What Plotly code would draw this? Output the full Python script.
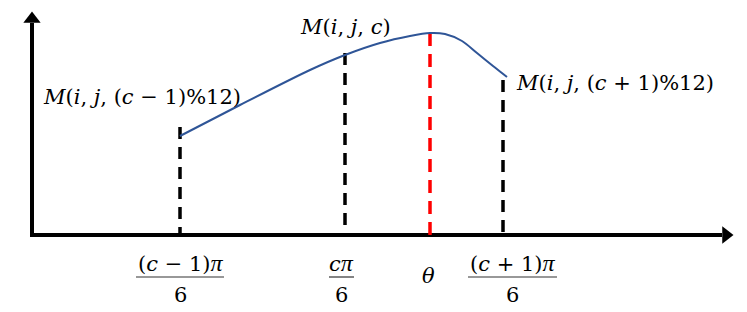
import plotly.graph_objects as go

# ---- data (horizontal position, height above the x axis) ----
curve_x = [180, 240, 310, 345, 380, 410, 430, 445, 462, 477, 493, 507]
curve_y = [99, 130, 165, 180, 192, 199, 202, 201, 194, 182, 169, 158]

guide_x = [180, 345, 503]          # (c-1)pi/6, c pi/6, (c+1)pi/6
guide_top = [108, 182, 155]
theta_x = 430
theta_top = 202

PI = '<span style="font-family:Liberation Serif;font-size:24px"><i>π</i></span>'
tick_nums = ["(<i>c</i> − 1)" + PI, "<i>c</i>" + PI, "(<i>c</i> + 1)" + PI]
tick_den = "6"
tick_bar = [(136, 224), (329, 354), (468, 557)]

labels = ["<i>M</i>(<i>i</i>, <i>j</i>, (<i>c</i> − 1)%12)",
          "<i>M</i>(<i>i</i>, <i>j</i>, <i>c</i>)",
          "<i>M</i>(<i>i</i>, <i>j</i>, (<i>c</i> + 1)%12)"]
label_x = [41, 298, 514]
label_y = [138, 208, 152]

FONT = "DejaVu Serif"
FS = 21
OFF = 8  # page body margin

fig = go.Figure()

# axes
fig.add_trace(go.Scatter(x=[32, 32], y=[0, 212], mode="lines",
                         line=dict(color="black", width=4), hoverinfo="skip"))
fig.add_trace(go.Scatter(x=[30, 722], y=[0, 0], mode="lines",
                         line=dict(color="black", width=4), hoverinfo="skip"))
fig.add_trace(go.Scatter(x=[32], y=[216], mode="markers",
                         marker=dict(symbol="triangle-up", size=15, color="black"),
                         hoverinfo="skip"))
fig.add_trace(go.Scatter(x=[726], y=[0], mode="markers",
                         marker=dict(symbol="triangle-right", size=15, color="black"),
                         hoverinfo="skip"))

# guide lines
for gx, gt in zip(guide_x, guide_top):
    fig.add_trace(go.Scatter(x=[gx, gx], y=[gt, 0], mode="lines",
                             line=dict(color="black", width=3.5, dash="12px,8px"),
                             hoverinfo="skip"))
fig.add_trace(go.Scatter(x=[theta_x, theta_x], y=[theta_top, 0], mode="lines",
                         line=dict(color="#FF0000", width=3.5, dash="13px,8px"),
                         hoverinfo="skip"))

# curve
fig.add_trace(go.Scatter(x=curve_x, y=curve_y, mode="lines",
                         line=dict(color="#2F5597", width=2, shape="spline", smoothing=0.8),
                         hoverinfo="skip"))

ann = []
for t, lx, ly in zip(labels, label_x, label_y):
    ann.append(dict(x=lx, y=ly, text=t, showarrow=False, xanchor="left", yanchor="middle",
                    font=dict(family=FONT, size=FS, color="black")))
for t, (b0, b1) in zip(tick_nums, tick_bar):
    cx = (b0 + b1) / 2
    ann.append(dict(x=cx, y=235 - 263, text=t, showarrow=False, xanchor="center",
                    yanchor="middle", font=dict(family=FONT, size=FS, color="black")))
    ann.append(dict(x=cx, y=235 - 295, text=tick_den, showarrow=False, xanchor="center",
                    yanchor="middle", font=dict(family=FONT, size=FS, color="black")))
    fig.add_shape(type="line", x0=b0, x1=b1, y0=235 - 277, y1=235 - 277,
                  line=dict(color="#333333", width=1.2))
ann.append(dict(x=theta_x - 2, y=235 - 276, text="<i>θ</i>", showarrow=False,
                xanchor="center", yanchor="middle",
                font=dict(family=FONT, size=FS, color="black")))

fig.update_layout(
    width=747, height=312, autosize=False,
    margin=dict(l=0, r=0, t=0, b=0),
    paper_bgcolor="white", plot_bgcolor="white",
    showlegend=False,
    xaxis=dict(range=[OFF, 747 + OFF], visible=False, fixedrange=True),
    yaxis=dict(range=[235 - 312 - OFF, 235 - OFF], visible=False, fixedrange=True),
    annotations=ann,
)

fig.write_html("out.html")
